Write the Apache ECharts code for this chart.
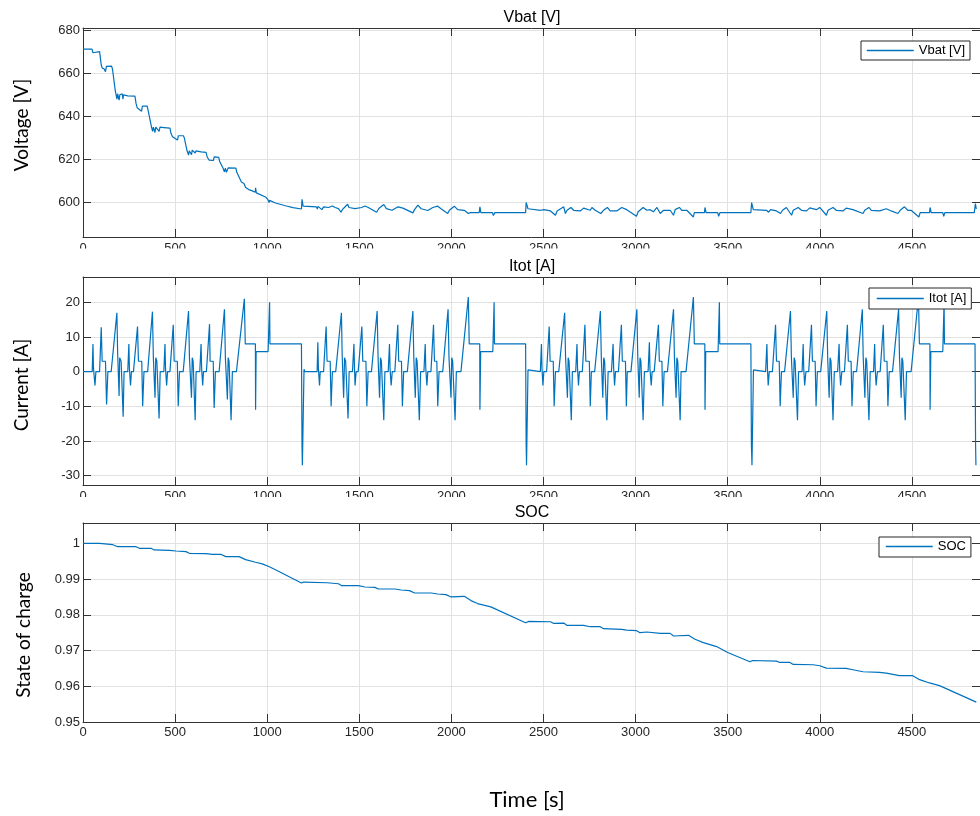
<!DOCTYPE html>
<html>
<head>
<meta charset="utf-8">
<script src="https://cdn.jsdelivr.net/npm/echarts@6/dist/echarts.min.js"></script>
<style>
  html, body { margin: 0; padding: 0; background: #fff; }
  #chart { width: 980px; height: 816px; }
</style>
</head>
<body>
<div id="chart"></div>
<script>
// Time axis [s] and tick positions
const timeTicks = [0, 500, 1000, 1500, 2000, 2500, 3000, 3500, 4000, 4500];
const voltTicks = [600, 620, 640, 660, 680];
const currTicks = [-30, -20, -10, 0, 10, 20];
const socTicks = [0.95, 0.96, 0.97, 0.98, 0.99, 1];

// Battery voltage [V] as [time, value]
const vbat = [
  [0,671.2],[49,671.2],[54,669.5],[58,670.2],[90,670],[96,666],[99,663.8],[104,662.5],[115,662],[122,660.7],
  [127,663.2],[135,663.5],[155,663.3],[160,662],[175,652],[180,649.8],[184,648],[188,650.5],[192,650],[196,647.5],
  [200,650],[206,650.8],[213,650.5],[217,648],[220,650],[243,649.5],[249,650],[252,649.5],[282,649.4],[288,646],
  [294,644],[300,643.6],[318,642.4],[322,644.7],[348,644.8],[353,643],[372,635],[378,633],[382,635],[386,634.5],
  [391,632.5],[395,635],[401,635.2],[413,633],[418,635],[440,634.8],[445,634],[450,634.6],[472,634.5],[478,632],
  [486,630.5],[495,630],[513,629],[518,631],[545,631],[550,630],[565,624],[573,622],[577,624],[582,624],
  [589,622.2],[593,624.3],[598,624.5],[609,623],[614,624],[641,623.5],[645,623],[668,623.3],[675,621],[685,619.7],
  [690,619.3],[708,619.5],[712,621.2],[737,621],[742,619],[760,616],[768,614.2],[773,616],[779,614],[784,614.5],
  [788,616.1],[830,616],[835,614],[860,609.5],[874,608.8],[883,607],[900,606],[919,605.4],[935,604.8],[937,606.8],
  [941,604.5],[991,602.6],[1005,601.2],[1010,600],[1013,601],[1016,600.3],[1045,599.8],[1099,598.5],[1140,597.6],[1186,597],
  [1189,601.5],[1195,598.3],[1204,598],[1268,598],[1272,597],[1276,598.2],[1279,597.7],[1297,596.7],[1306,598],[1333,597.7],
  [1354,598.4],[1369,597.7],[1387,597.2],[1401,595.5],[1408,596.7],[1419,597.7],[1437,599.2],[1444,597.7],[1477,597.2],[1487,596.4],
  [1513,597.7],[1531,598.4],[1549,597.7],[1594,595.5],[1606,597.2],[1633,599.1],[1647,597.2],[1678,596.4],[1710,598],[1737,597.4],
  [1791,595.2],[1800,596.7],[1818,598.8],[1836,597.1],[1872,596.3],[1899,597.7],[1926,598.3],[1944,597.1],[1980,594.9],[1989,596.4],
  [2016,598.3],[2034,596.7],[2070,596.4],[2092,594.9],[2103,595.3],[2151,595.3],[2155,598],[2160,595.3],[2223,595.3],[2228,594],
  [2236,595.3],[2403,595.3],[2406,600],[2416,597.1],[2484,596.4],[2493,596],[2502,596.7],[2538,596.1],[2565,594.1],[2574,596.1],
  [2610,598],[2619,594.9],[2628,596.4],[2649,597.7],[2664,596.4],[2700,596.1],[2718,597.4],[2754,596.4],[2763,597.7],[2781,596.4],
  [2811,594.9],[2826,596.4],[2847,597.7],[2862,596.1],[2898,596.1],[2925,597.7],[2952,596.7],[3005,593.6],[3014,595.7],[3041,597.7],
  [3061,596.4],[3079,596.7],[3097,595.7],[3116,597.7],[3134,594.9],[3152,596.4],[3188,596.4],[3206,594.1],[3215,596.7],[3238,597.7],
  [3251,596.4],[3278,596.4],[3314,593.3],[3319,595.3],[3374,595.3],[3377,597.7],[3383,595.3],[3446,595.3],[3451,593.6],[3458,595.3],
  [3626,595.3],[3630,600],[3639,596.7],[3711,596.4],[3722,595.5],[3733,596.7],[3765,596.1],[3787,594.9],[3798,596.4],[3819,597.7],
  [3847,594.1],[3856,596.4],[3883,597.7],[3901,596.4],[3928,596.1],[3946,597.5],[3982,596.7],[4000,597.7],[4036,594.1],[4045,596.4],
  [4072,597.7],[4090,596.4],[4126,596.1],[4144,597.4],[4180,596.7],[4235,594.9],[4244,596.4],[4267,597.7],[4280,596.4],[4325,596.1],
  [4361,597.1],[4388,596.1],[4424,594.9],[4437,596.4],[4460,598],[4478,596.4],[4496,596.4],[4538,593.3],[4545,595.3],[4596,595.3],
  [4599,597.7],[4605,595.3],[4668,595.3],[4673,593.6],[4679,595.3],[4839,595.3],[4845,599.5],[4850,597]
];

// Total current [A] as [time, value]
const itot = [
  [0,0],[50,0],[54,8],[57,1],[62,1],[65,-4],[70,0],[90,0],[99,12.8],[104,3],[122,3],[128,-9.5],[135,0],[153,0],
  [184,17],[188,5.5],[192,5],[196,-7],[199,4],[205,3.5],[207,3],[218,-13],[223,0],[243,0],[249,8],[252,1],[255,1],[258,-4],
  [263,0],[274,0],[296,13],[301,3],[319,3],[324,-10],[331,0],[351,0],[377,17.3],[382,4],[386,4],[391,-7.5],[395,4],[401,3],
  [413,-13.5],[419,0],[439,0],[445,8],[448,1],[451,1],[454,-4],[459,0],[472,0],[490,13.5],[495,3],[512,3],[517,-10],[524,0],
  [544,0],[573,17.5],[578,4],[582,4],[589,-7.5],[593,4],[598,3],[609,-14],[614,0],[634,0],[641,8],[644,1],[647,1],[650,-4],
  [654,0],[670,0],[687,13.7],[690,3],[707,3],[712,-10.5],[719,0],[739,0],[768,18],[773,4],[777,4],[784,-8],[788,4],[793,3],
  [804,-14],[811,0],[833,0],[876,21],[881,8],[936,8],[937,-11],[940,5.8],[1005,5.8],[1013,20],[1015,8],[1186,8],[1189,-21],
  [1191,-27],[1200,0.7],[1204,0],
  [1271,0],[1275,8.5],[1278,1],[1281,1],[1284,-4],[1288,0],[1306,0],[1320,13],[1325,3],[1342,3],[1347,-10],[1354,0],[1372,0],
  [1403,17],[1407,5],[1411,5],[1415,-7.5],[1420,4],[1426,3],[1439,-13.5],[1445,0],[1463,0],[1471,8],[1474,1],[1477,-4],[1483,0],
  [1494,0],[1514,13],[1519,3],[1536,3],[1541,-10],[1548,0],[1566,0],[1597,17.5],[1602,4],[1606,4],[1610,-7.5],[1615,4],[1620,3],
  [1633,-14],[1639,0],[1657,0],[1664,8],[1667,1],[1670,1],[1673,-4],[1679,0],[1693,0],[1709,13.5],[1714,3],[1729,3],[1734,-10],
  [1741,0],[1761,0],[1791,17.5],[1796,4],[1800,4],[1804,-7.5],[1809,4],[1814,3],[1826,-14],[1833,0],[1851,0],[1858,8],[1861,1],
  [1864,1],[1867,-4],[1872,0],[1889,0],[1903,13.5],[1908,3],[1921,3],[1926,-10],[1933,0],[1953,0],[1982,18],[1987,4],[1993,4],
  [1998,-7.5],[2002,4],[2007,3],[2020,-14],[2027,0],[2052,0],[2092,21.5],[2097,8],[2154,8],[2155,-11],[2159,5.8],[2225,5.8],
  [2232,20],[2234,8],[2403,8],[2406,-21],[2408,-27],[2416,0.5],[2422,0],
  [2483,0],[2489,8],[2492,1],[2494,1],[2497,-4],[2502,0],[2517,0],[2531,13],[2536,3],[2553,3],[2558,-10],[2565,0],[2583,0],
  [2615,17],[2620,4],[2624,4],[2630,-7.5],[2634,4],[2639,3],[2651,-14],[2657,0],[2675,0],[2682,8],[2685,1],[2687,1],[2690,-4],
  [2695,0],[2711,0],[2725,13.5],[2730,3],[2749,3],[2754,-10],[2760,0],[2778,0],[2809,17.5],[2814,4],[2818,4],[2822,-7.5],
  [2827,4],[2832,3],[2844,-14],[2851,0],[2869,0],[2878,8],[2881,1],[2883,1],[2886,-4],[2891,0],[2907,0],[2923,13.5],[2928,3],
  [2945,3],[2950,-10],[2955,0],[2975,0],[3007,18],[3012,4],[3016,4],[3020,-7.5],[3024,4],[3029,3],[3041,-14],[3048,0],[3068,0],
  [3075,8.5],[3078,1],[3081,1],[3085,-4],[3090,0],[3101,0],[3124,13.5],[3129,3],[3143,3],[3148,-10],[3155,0],[3173,0],[3206,18],
  [3211,4],[3215,4],[3220,-7.5],[3224,4],[3229,3],[3242,-14],[3247,0],[3274,0],[3314,21.5],[3319,8],[3376,8],[3377,-11],
  [3381,5.8],[3448,5.8],[3455,20],[3457,8],[3626,8],[3629,-21],[3632,-27],[3640,0.5],[3646,0],
  [3706,0],[3713,8],[3716,1],[3718,1],[3720,-4],[3726,0],[3743,0],[3760,13.5],[3765,3],[3780,3],[3785,-10],[3792,0],[3809,0],
  [3841,17.5],[3846,4],[3850,4],[3856,-7.5],[3861,4],[3866,3],[3879,-14],[3885,0],[3904,0],[3910,8],[3913,1],[3915,1],[3918,-4],
  [3925,0],[3940,0],[3955,13.5],[3960,3],[3975,3],[3980,-10],[3987,0],[4005,0],[4038,17.5],[4043,4],[4047,4],[4051,-7.5],
  [4056,4],[4061,3],[4072,-14],[4079,0],[4097,0],[4105,8],[4108,1],[4110,1],[4113,-4],[4120,0],[4134,0],[4150,13.5],[4155,3],
  [4170,3],[4175,-10],[4182,0],[4200,0],[4231,18],[4236,4],[4240,4],[4245,-7.5],[4250,4],[4255,3],[4267,-14],[4274,0],[4292,0],
  [4298,8],[4301,1],[4303,1],[4306,-4],[4313,0],[4328,0],[4345,13.5],[4350,3],[4365,3],[4370,-10],[4377,0],[4395,0],[4428,18],
  [4433,4],[4437,4],[4442,-7.5],[4446,4],[4451,3],[4464,-14],[4471,0],[4496,0],[4536,21.5],[4541,8],[4598,8],[4599,-11],
  [4603,5.8],[4668,5.8],[4675,20],[4677,8],[4843,8],[4846,-21],[4848,-27]
];

// State of charge [-] as [time, value]
const soc = [
  [0,1.0],[90,1.0],[162,0.99963],[189,0.99907],[288,0.99907],[306,0.99861],[369,0.99861],[387,0.99815],[469,0.99806],[505,0.99787],
  [559,0.99769],[577,0.99722],[667,0.99713],[703,0.99694],[748,0.99694],[775,0.9963],[847,0.9963],[883,0.99546],[937,0.99472],
  [973,0.99426],[1009,0.99352],[1045,0.99259],[1186,0.98889],[1198,0.98917],[1324,0.98898],[1333,0.98889],[1387,0.9887],
  [1405,0.98815],[1495,0.98815],[1531,0.98778],[1585,0.98769],[1603,0.98722],[1692,0.98722],[1728,0.98694],[1773,0.98676],
  [1800,0.98611],[1890,0.98611],[1926,0.98583],[1971,0.98565],[1998,0.985],[2070,0.98519],[2106,0.98398],[2142,0.98315],
  [2214,0.98222],[2403,0.97778],[2421,0.97815],[2538,0.97806],[2556,0.97759],[2610,0.97769],[2628,0.97704],[2718,0.97704],
  [2754,0.97667],[2808,0.97667],[2826,0.97611],[2925,0.97593],[2952,0.97574],[3006,0.97556],[3024,0.975],[3061,0.97519],
  [3134,0.97481],[3188,0.97481],[3206,0.97407],[3287,0.97426],[3323,0.97315],[3368,0.97222],[3440,0.97111],[3500,0.96944],
  [3621,0.96685],[3635,0.96722],[3765,0.96704],[3783,0.96667],[3838,0.96667],[3856,0.96611],[3964,0.96602],[4000,0.96574],
  [4036,0.96509],[4144,0.965],[4180,0.96463],[4235,0.96407],[4325,0.96389],[4361,0.9637],[4433,0.96296],[4505,0.96296],
  [4542,0.96185],[4596,0.96093],[4650,0.96019],[4850,0.95556]
];

const LINE_BLUE = '#0072BD';
const AXIS_DARK = '#333333';
const GRID_GREY = '#e2e2e2';
const TICK_FONT = '"Liberation Sans", Arial, sans-serif';
const NAME_FONT = 'Lato, "Noto Sans", sans-serif';
const T_MAX = 4870;

const panels = [
  { top: 28, height: 209, min: 584, max: 681, ticks: voltTicks, name: 'Vbat [V]', data: vbat, xMargin: 5,
    legend: { left: 861, top: 41, padding: [3, 5, 3, 5] } },
  { top: 277, height: 208, min: -32.7, max: 27.3, ticks: currTicks, name: 'Itot [A]', data: itot, xMargin: 5,
    legend: { left: 869, top: 288, padding: [4, 5, 4, 7] } },
  { top: 523, height: 199, min: 0.95, max: 1.0057, ticks: socTicks, name: 'SOC', data: soc, xMargin: 4,
    legend: { left: 879, top: 537, padding: [3, 5, 4, 6] } }
];

const grid = [], xAxis = [], yAxis = [], series = [], legend = [];
panels.forEach((p, i) => {
  grid.push({ left: 83, top: p.top, width: 901, height: p.height });
  const line = { show: true, onZero: false, lineStyle: { color: AXIS_DARK, width: 1 } };
  const tick = (vals) => ({ show: true, inside: true, length: 8, customValues: vals, lineStyle: { color: AXIS_DARK } });
  // bottom time axis with labels and vertical grid lines
  xAxis.push({
    type: 'value', gridIndex: i, position: 'bottom', min: 0, max: T_MAX,
    axisLine: line, axisTick: tick(timeTicks),
    axisLabel: { customValues: timeTicks, margin: p.xMargin, fontSize: 13, color: '#262626', fontFamily: TICK_FONT,
                 formatter: v => String(v) },
    splitLine: { show: true, lineStyle: { color: GRID_GREY, width: 1 } }
  });
  // top frame edge with inward ticks
  xAxis.push({
    type: 'value', gridIndex: i, position: 'top', min: 0, max: T_MAX,
    axisLine: line, axisTick: tick(timeTicks), axisLabel: { show: false }, splitLine: { show: false }
  });
  yAxis.push({
    type: 'value', gridIndex: i, position: 'left', min: p.min, max: p.max,
    axisLine: line, axisTick: tick(p.ticks),
    axisLabel: { customValues: p.ticks, margin: 3, fontSize: 13, color: '#262626', fontFamily: TICK_FONT,
                 formatter: v => String(+v.toFixed(2)) },
    splitLine: { show: true, lineStyle: { color: GRID_GREY, width: 1 } }
  });
  yAxis.push({
    type: 'value', gridIndex: i, position: 'right', min: p.min, max: p.max,
    axisLine: line, axisTick: tick(p.ticks), axisLabel: { show: false }, splitLine: { show: false }
  });
  series.push({
    name: p.name, type: 'line', xAxisIndex: 2 * i, yAxisIndex: 2 * i,
    data: p.data, symbol: 'none', showSymbol: false,
    lineStyle: { color: LINE_BLUE, width: 1.2 }, itemStyle: { color: LINE_BLUE },
    animation: false, z: 3
  });
  legend.push({
    data: [p.name], left: p.legend.left, top: p.legend.top, padding: p.legend.padding,
    orient: 'horizontal', itemWidth: 47, itemHeight: 14, itemGap: 5,
    backgroundColor: '#ffffff', borderColor: '#262626', borderWidth: 1, borderRadius: 0,
    selectedMode: false, z: 10,
    itemStyle: { opacity: 0 },
    lineStyle: { color: LINE_BLUE, width: 1.5 },
    textStyle: { fontSize: 13, color: '#000', fontFamily: TICK_FONT }
  });
});

const text = (str, x, y, size, rot, fam) => ({
  type: 'text', x: x, y: y, rotation: rot || 0, z: 120,
  style: { text: str, fill: '#000', font: size + 'px ' + (fam || TICK_FONT),
           align: 'center', verticalAlign: 'middle', textAlign: 'center', textVerticalAlign: 'middle' }
});

const graphic = [
  // strips that trim the time labels of the upper two panels
  { type: 'rect', z: 100, shape: { x: 40, y: 248.5, width: 945, height: 8.5 }, style: { fill: '#fff' } },
  { type: 'rect', z: 100, shape: { x: 40, y: 497, width: 945, height: 8 }, style: { fill: '#fff' } },
  text('Vbat [V]', 532, 18, 16),
  text('Itot [A]', 532, 266.5, 16),
  text('SOC', 532, 512.5, 16),
  text('Voltage [V]', 22, 125, 19, Math.PI / 2, NAME_FONT),
  text('Current [A]', 22, 385, 19, Math.PI / 2, NAME_FONT),
  text('State of charge', 24, 635, 19, Math.PI / 2, NAME_FONT),
  text('Time [s]', 527, 800, 22, 0, NAME_FONT)
];

const chart = echarts.init(document.getElementById('chart'), null, { renderer: 'canvas' });
chart.setOption({
  backgroundColor: '#ffffff',
  animation: false,
  grid, xAxis, yAxis, series, legend, graphic
});
</script>
</body>
</html>
